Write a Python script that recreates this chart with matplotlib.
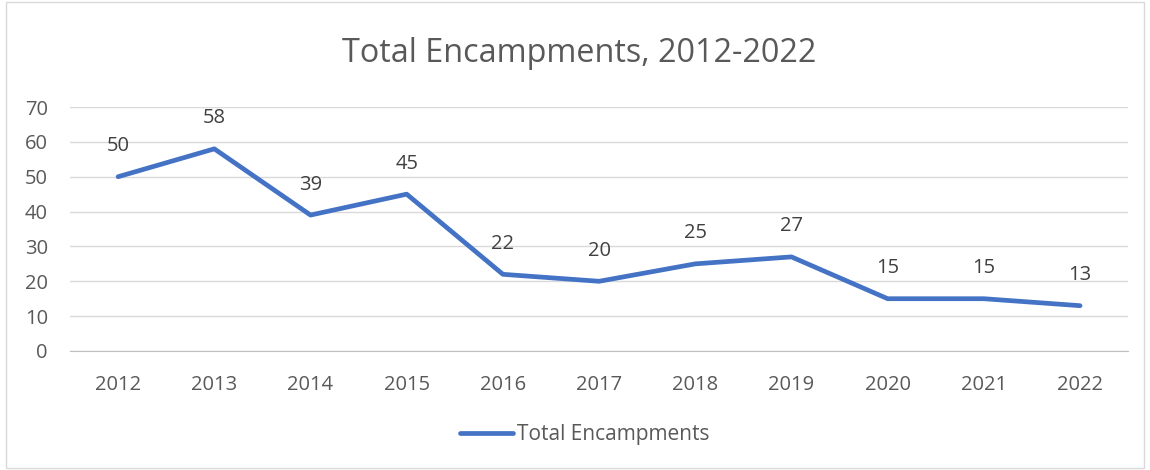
import matplotlib.pyplot as plt
import matplotlib.patches as mpatches

years = ['2012', '2013', '2014', '2015', '2016', '2017', '2018', '2019', '2020', '2021', '2022']
encampments = [50, 58, 39, 45, 22, 20, 25, 27, 15, 15, 13]
y_ticks = [0, 10, 20, 30, 40, 50, 60, 70]

text_color = '#595959'
line_color = '#4472C4'
grid_color = '#D9D9D9'

plt.rcParams['font.family'] = ['Open Sans', 'DejaVu Sans']

fig = plt.figure(figsize=(11.5, 4.7), dpi=100)
ax = fig.add_axes([0.0609, 0.2532, 0.9201, 0.5191])

# outer chart border
fig.patches.append(mpatches.Rectangle((0.005, 0.004), 0.99, 0.992, transform=fig.transFigure,
                                      fill=False, edgecolor='#D9D9D9', linewidth=1))

x = list(range(len(years)))
ax.plot(x, encampments, color=line_color, linewidth=3.4, solid_capstyle='round',
        label='Total Encampments')

for xi, v in zip(x, encampments):
    ax.annotate(str(v), (xi, v), xytext=(0, 22), textcoords='offset points',
                ha='center', va='center', fontsize=14.5, color='#404040')

ax.set_xlim(-0.5, len(years) - 0.5)
ax.set_ylim(0, 70)
ax.set_yticks(y_ticks)
ax.set_xticks(x)
ax.set_xticklabels(years)
ax.grid(axis='y', color=grid_color, linewidth=1)
ax.set_axisbelow(True)
for s in ['top', 'right', 'left']:
    ax.spines[s].set_visible(False)
ax.spines['bottom'].set_color('#BFBFBF')
ax.tick_params(axis='both', length=0, labelsize=14.5, labelcolor=text_color)
ax.tick_params(axis='x', pad=17)
ax.tick_params(axis='y', pad=16)

fig.text(0.504, 0.887, 'Total Encampments, 2012-2022', ha='center', va='center',
         fontsize=23.3, color=text_color)

fig.legend(loc='center', bbox_to_anchor=(0.5087, 0.0745), frameon=False, fontsize=15,
           labelcolor=text_color, handlelength=2.55, handletextpad=0.2)

fig.savefig('out.png', dpi=100, facecolor='white')
